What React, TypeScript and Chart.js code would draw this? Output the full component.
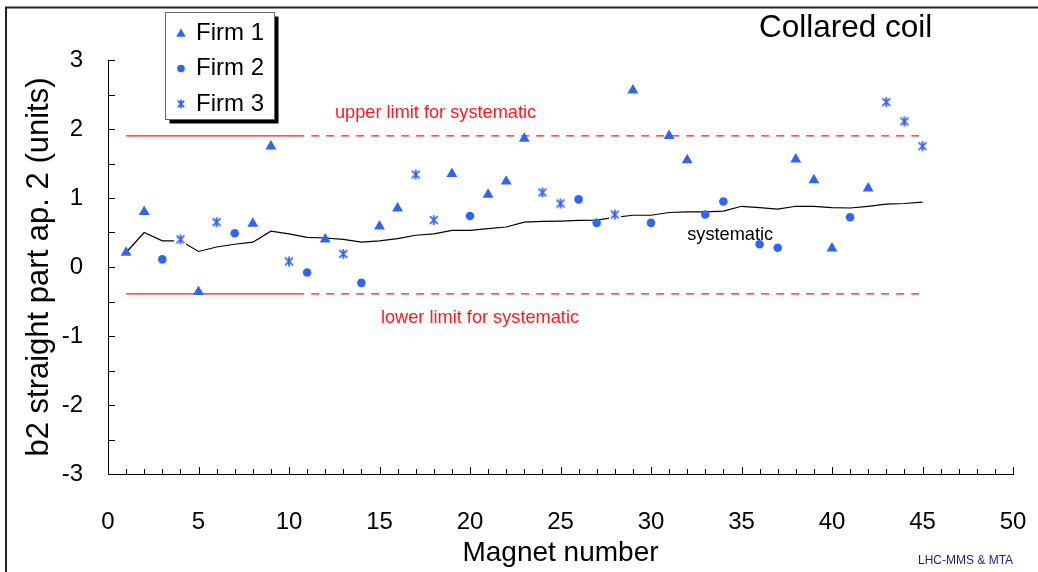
import React, { useEffect, useRef } from "react";
import { Chart, registerables } from "chart.js";

Chart.register(...registerables);

const FONT = "'Liberation Sans', Arial, Helvetica, sans-serif";
const BLUE = "#2f64f6";
const RED = "#ff1a1a";

// Axis ranges and tick spacing
const magnetRange = [0, 50];
const magnetStep = 5;
const b2Range = [-3, 3];
const b2Step = 1;

// Measured b2 per magnet, grouped by manufacturer
const firm1Magnets = [1, 2, 5, 8, 9, 12, 15, 16, 19, 21, 22, 23, 29, 31, 32, 38, 39, 40, 42];
const firm1B2 = [0.21, 0.8, -0.36, 0.63, 1.75, 0.4, 0.59, 0.85, 1.35, 1.05, 1.24, 1.86, 2.56, 1.9, 1.55, 1.56, 1.26, 0.27, 1.14];

const firm2Magnets = [3, 7, 11, 14, 20, 26, 27, 30, 33, 34, 36, 37, 41];
const firm2B2 = [0.11, 0.49, -0.08, -0.23, 0.74, 0.98, 0.64, 0.64, 0.76, 0.95, 0.33, 0.28, 0.72];

const firm3Magnets = [4, 6, 10, 13, 17, 18, 24, 25, 28, 43, 44, 45];
const firm3B2 = [0.4, 0.65, 0.08, 0.19, 1.34, 0.68, 1.08, 0.92, 0.76, 2.39, 2.11, 1.75];

// Running systematic b2
const systematicMagnets = [
  1, 2, 3, 4, 5, 6, 7, 8, 9, 10, 11, 12, 13, 14, 15, 16, 17, 18, 19, 20, 21, 22, 23,
  24, 25, 26, 27, 28, 29, 30, 31, 32, 33, 34, 35, 36, 37, 38, 39, 40, 41, 42, 43, 44, 45,
];
const systematicB2 = [
  0.21, 0.5, 0.38, 0.38, 0.225, 0.29, 0.33, 0.36, 0.52, 0.48, 0.43, 0.42, 0.4, 0.36, 0.38,
  0.41, 0.46, 0.48, 0.53, 0.53, 0.555, 0.58, 0.65, 0.66, 0.665, 0.675, 0.68, 0.72, 0.75,
  0.75, 0.79, 0.8, 0.8, 0.81, 0.88, 0.86, 0.84, 0.88, 0.88, 0.86, 0.855, 0.88, 0.91, 0.92, 0.94,
];

// Limits for the systematic component (solid over the first magnets, dashed after)
const upperLimit = 1.9;
const lowerLimit = -0.39;
const limitFrom = 1;
const limitSolidTo = 10.4;
const limitTo = 45;

const seriesNames = ["Firm 1", "Firm 2", "Firm 3"];

const toPoints = (xs: number[], ys: number[]) => xs.map((x, i) => ({ x, y: ys[i] }));

function makeAsterisk(size: number): HTMLCanvasElement {
  const c = document.createElement("canvas");
  c.width = size;
  c.height = size;
  const g = c.getContext("2d")!;
  g.fillStyle = "#ffffff";
  g.fillRect(0, 0, size, size);
  const m = size / 2;
  const r = size * 0.33;
  g.strokeStyle = BLUE;
  g.lineWidth = 1.7;
  g.beginPath();
  g.moveTo(m - r, m - r);
  g.lineTo(m + r, m + r);
  g.moveTo(m + r, m - r);
  g.lineTo(m - r, m + r);
  g.moveTo(m, m - r - 1);
  g.lineTo(m, m + r + 1);
  g.stroke();
  return c;
}

function drawTriangle(ctx: CanvasRenderingContext2D, x: number, y: number, r: number) {
  ctx.beginPath();
  ctx.moveTo(x, y - r);
  ctx.lineTo(x + r * 0.866, y + r * 0.5);
  ctx.lineTo(x - r * 0.866, y + r * 0.5);
  ctx.closePath();
  ctx.fill();
}

export default function App() {
  const ref = useRef<HTMLCanvasElement | null>(null);

  useEffect(() => {
    if (!ref.current) return;
    const star = makeAsterisk(12);
    const legendStar = makeAsterisk(10);

    const decorations = {
      id: "decorations",
      afterDraw(chart: any) {
        const { ctx, chartArea: a, scales } = chart;
        const xs = scales.x;
        const ys = scales.y;
        ctx.save();

        // page frame
        ctx.strokeStyle = "#222";
        ctx.lineWidth = 2;
        ctx.beginPath();
        ctx.moveTo(6, 572);
        ctx.lineTo(6, 7.5);
        ctx.lineTo(1038, 7.5);
        ctx.stroke();

        // inward tick marks
        ctx.strokeStyle = "#000";
        ctx.lineWidth = 1;
        ctx.beginPath();
        for (let v = magnetRange[0] + 1; v <= magnetRange[1]; v++) {
          const px = Math.round(xs.getPixelForValue(v)) + 0.5;
          const len = v % magnetStep === 0 ? 7 : 5;
          ctx.moveTo(px, a.bottom);
          ctx.lineTo(px, a.bottom - len);
        }
        for (let v = b2Range[0]; v <= b2Range[1]; v += b2Step / 2) {
          const py = Math.round(ys.getPixelForValue(v)) + 0.5;
          ctx.moveTo(a.left, py);
          ctx.lineTo(a.left + 7, py);
        }
        ctx.stroke();

        // annotations
        ctx.textBaseline = "middle";
        ctx.textAlign = "left";
        ctx.fillStyle = RED;
        ctx.font = `18.2px ${FONT}`;
        ctx.fillText("upper limit for systematic", xs.getPixelForValue(12.54), ys.getPixelForValue(2.23));
        ctx.fillText("lower limit for systematic", xs.getPixelForValue(15.08), ys.getPixelForValue(-0.74));
        ctx.fillStyle = "#000";
        ctx.fillText("systematic", xs.getPixelForValue(32.0), ys.getPixelForValue(0.46));

        ctx.font = `31.5px ${FONT}`;
        ctx.fillText("Collared coil", 759, 28);

        ctx.save();
        ctx.fillStyle = "#1c1c8a";
        ctx.font = `12px ${FONT}`;
        ctx.translate(918, 561);
        ctx.fillText("LHC-MMS & MTA", 0, 0);
        ctx.restore();

        // legend box with drop shadow
        const lx = 165.5, ly = 12.5, lw = 109, lh = 107;
        ctx.fillStyle = "#000";
        ctx.fillRect(lx + 4, ly + 4, lw, lh);
        ctx.fillStyle = "#fff";
        ctx.fillRect(lx, ly, lw, lh);
        ctx.strokeStyle = "#666";
        ctx.lineWidth = 1;
        ctx.strokeRect(lx, ly, lw, lh);

        const rows = [33, 68.5, 104];
        ctx.fillStyle = BLUE;
        drawTriangle(ctx, 181, rows[0] + 1, 5.5);
        ctx.beginPath();
        ctx.arc(181, rows[1], 3.8, 0, Math.PI * 2);
        ctx.fill();
        ctx.drawImage(legendStar, 176, rows[2] - 5);

        ctx.fillStyle = "#000";
        ctx.font = `24px ${FONT}`;
        seriesNames.forEach((n, i) => ctx.fillText(n, 196, rows[i]));

        ctx.restore();
      },
    };

    const noOverhang = (s: any) => {
      s.paddingLeft = 0;
      s.paddingRight = 0;
      s.paddingTop = 0;
      s.paddingBottom = 0;
    };

    const chart = new Chart(ref.current, {
      type: "scatter",
      data: {
        datasets: [
          {
            label: seriesNames[2],
            data: toPoints(firm3Magnets, firm3B2),
            pointStyle: star as any,
            pointRadius: 6,
            backgroundColor: BLUE,
            borderColor: BLUE,
          },
          {
            label: seriesNames[0],
            data: toPoints(firm1Magnets, firm1B2),
            pointStyle: "triangle",
            pointRadius: 6.3,
            borderWidth: 0,
            backgroundColor: BLUE,
            borderColor: BLUE,
          },
          {
            label: seriesNames[1],
            data: toPoints(firm2Magnets, firm2B2),
            pointStyle: "circle",
            pointRadius: 4.3,
            borderWidth: 0,
            backgroundColor: BLUE,
            borderColor: BLUE,
          },
          {
            label: "systematic",
            data: toPoints(systematicMagnets, systematicB2),
            showLine: true,
            pointRadius: 0,
            borderColor: "#000",
            borderWidth: 1.2,
            tension: 0,
          },
          {
            label: "upper limit",
            data: [
              { x: limitFrom, y: upperLimit },
              { x: limitSolidTo, y: upperLimit },
            ],
            showLine: true,
            pointRadius: 0,
            borderColor: RED,
            borderWidth: 1.2,
          },
          {
            label: "upper limit (cont.)",
            data: [
              { x: limitSolidTo, y: upperLimit },
              { x: limitTo, y: upperLimit },
            ],
            showLine: true,
            pointRadius: 0,
            borderColor: RED,
            borderWidth: 1.2,
            borderDash: [8, 7],
          },
          {
            label: "lower limit",
            data: [
              { x: limitFrom, y: lowerLimit },
              { x: limitSolidTo, y: lowerLimit },
            ],
            showLine: true,
            pointRadius: 0,
            borderColor: RED,
            borderWidth: 1.2,
          },
          {
            label: "lower limit (cont.)",
            data: [
              { x: limitSolidTo, y: lowerLimit },
              { x: limitTo, y: lowerLimit },
            ],
            showLine: true,
            pointRadius: 0,
            borderColor: RED,
            borderWidth: 1.2,
            borderDash: [8, 7],
          },
        ],
      },
      options: {
        animation: false,
        responsive: false,
        devicePixelRatio: 1,
        layout: { padding: { left: 0, top: 60, right: 25, bottom: 0 } },
        plugins: { legend: { display: false }, tooltip: { enabled: false } },
        scales: {
          x: {
            type: "linear",
            min: magnetRange[0],
            max: magnetRange[1],
            grid: { display: false, drawTicks: false },
            border: { display: true, color: "#000", width: 1 },
            ticks: {
              stepSize: magnetStep,
              color: "#000",
              font: { size: 24, family: FONT },
              padding: 34,
              maxRotation: 0,
            },
            title: {
              display: true,
              text: "Magnet number",
              color: "#000",
              font: { size: 28, family: FONT },
              padding: { top: 0, bottom: 2 },
            },
            afterFit: (s: any) => {
              s.height = 98;
              noOverhang(s);
            },
          },
          y: {
            type: "linear",
            min: b2Range[0],
            max: b2Range[1],
            grid: { display: false, drawTicks: false },
            border: { display: true, color: "#000", width: 1 },
            ticks: {
              stepSize: b2Step,
              color: "#000",
              font: { size: 24, family: FONT },
              padding: 25,
            },
            title: {
              display: true,
              text: "b2 straight part ap. 2 (units)",
              color: "#000",
              font: { size: 31, family: FONT },
              padding: { top: 21, bottom: 0 },
            },
            afterFit: (s: any) => {
              s.width = 108;
              noOverhang(s);
            },
          },
        },
      },
      plugins: [decorations],
    });

    return () => chart.destroy();
  }, []);

  return (
    <canvas
      ref={ref}
      width={1038}
      height={572}
      style={{ position: "fixed", left: 0, top: 0, background: "#fff" }}
    />
  );
}
